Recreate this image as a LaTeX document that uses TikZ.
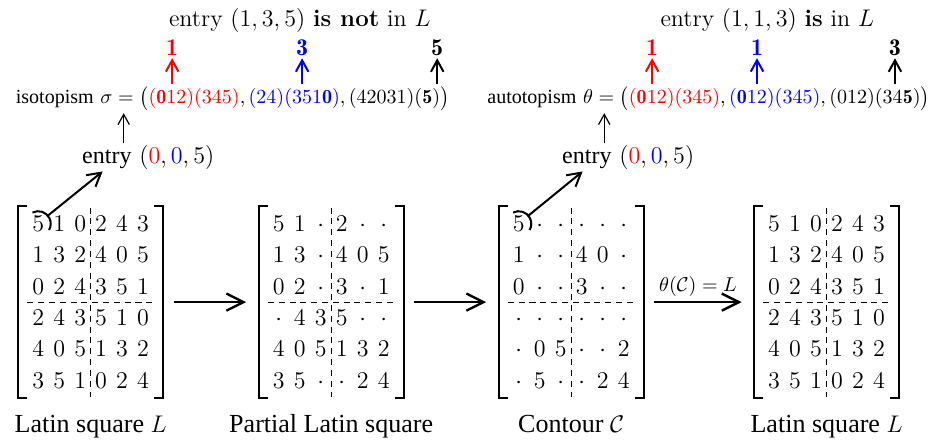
\documentclass[tikz,border=0pt]{standalone}
\usepackage{fontspec}
\newfontfamily\tms{Liberation Serif}
\usetikzlibrary{arrows.meta, matrix, calc}
\tikzset{
  mat/.style={matrix of math nodes, inner sep=0pt, column sep=0pt, row sep=0pt,
    nodes={font=\large, minimum width=0.368cm, text height=0.41cm, text depth=0.14cm, inner sep=0pt, anchor=center}},
  brk/.style={line width=1.1pt},
  sep/.style={line width=0.4pt, dash pattern=on 3pt off 2.4pt},
  arrow/.style={-{Straight Barb[length=3mm, width=3mm]}, line width=1.2pt},
  pick/.style={-{Straight Barb[length=2.3mm, width=2.6mm]}, line width=1pt},
  up/.style={-{Straight Barb[length=2mm, width=2.2mm]}, line width=1pt},
  thin arrow/.style={-{Straight Barb[length=1.8mm, width=2mm]}, line width=0.6pt},
  txt/.style={font=\large, anchor=base, inner sep=1pt},
  iso/.style={anchor=base, inner sep=1pt},
  hl/.style={font=\large, inner sep=1pt},
  lbl/.style={font=\tms\fontsize{13}{15}\selectfont, anchor=base},
}
\begin{document}
\begin{tikzpicture}
  \useasboundingbox (0,0) rectangle (16.49,7.77);
  % the four squares
  \matrix (m1) [mat] at (1.59,2.47) {
    5 & 1 & 0 & 2 & 4 & 3 \\
    1 & 3 & 2 & 4 & 0 & 5 \\
    0 & 2 & 4 & 3 & 5 & 1 \\
    2 & 4 & 3 & 5 & 1 & 0 \\
    4 & 0 & 5 & 1 & 3 & 2 \\
    3 & 5 & 1 & 0 & 2 & 4 \\
  };
  \matrix (m2) [mat] at (5.81,2.47) {
    5 & 1 & \cdot & 2 & \cdot & \cdot \\
    1 & 3 & \cdot & 4 & 0 & 5 \\
    0 & 2 & \cdot & 3 & \cdot & 1 \\
    \cdot & 4 & 3 & 5 & \cdot & \cdot \\
    4 & 0 & 5 & 1 & 3 & 2 \\
    3 & 5 & \cdot & \cdot & 2 & 4 \\
  };
  \matrix (m3) [mat] at (10.02,2.47) {
    5 & \cdot & \cdot & \cdot & \cdot & \cdot \\
    1 & \cdot & \cdot & 4 & 0 & \cdot \\
    0 & \cdot & \cdot & 3 & \cdot & \cdot \\
    \cdot & \cdot & \cdot & \cdot & \cdot & \cdot \\
    \cdot & 0 & 5 & \cdot & \cdot & 2 \\
    \cdot & 5 & \cdot & \cdot & 2 & 4 \\
  };
  \matrix (m4) [mat] at (14.50,2.47) {
    5 & 1 & 0 & 2 & 4 & 3 \\
    1 & 3 & 2 & 4 & 0 & 5 \\
    0 & 2 & 4 & 3 & 5 & 1 \\
    2 & 4 & 3 & 5 & 1 & 0 \\
    4 & 0 & 5 & 1 & 3 & 2 \\
    3 & 5 & 1 & 0 & 2 & 4 \\
  };
  \foreach \m in {m1,m2,m3,m4} {
    \draw[sep] (\m.west) -- (\m.east);
    \draw[sep] (\m.north) -- (\m.south);
    \draw[brk] ([yshift=0.03cm]\m.north west) -| ([xshift=-0.16cm, yshift=-0.03cm]\m.south west) -- ([yshift=-0.03cm]\m.south west);
    \draw[brk] ([yshift=0.03cm]\m.north east) -| ([xshift=0.16cm, yshift=-0.03cm]\m.south east) -- ([yshift=-0.03cm]\m.south east);
  }
  \node[lbl] (t1) at (1.59,0.18) {Latin square $L$};
  \node[lbl] (t2) at (5.81,0.18) {Partial Latin square};
  \node[lbl] (t3) at (10.02,0.18) {Contour $\mathcal{C}$};
  \node[lbl] (t4) at (14.50,0.18) {Latin square $L$};
  \draw[arrow] ([xshift=3.5mm]m1.east) -- ([xshift=-3.8mm]m2.west);
  \draw[arrow] ([xshift=3.5mm]m2.east) -- ([xshift=-3.8mm]m3.west);
  \draw[arrow] ([xshift=3.5mm]m3.east) -- node[above, inner sep=2pt] (th) {$\theta(\mathcal{C}) = L$} ([xshift=-3.8mm]m4.west);
  % isotopism: entry not in L
  \node[txt] (h1) at (5.26,7.30) {entry $(1,3,5)$ \textbf{is not} in $L$};
  \node[iso] (s1) at (4.08,5.95) {{\tms isotopism} $\sigma = \big({\color{red}(\mathbf{0}12)(345)}, {\color{blue}(24)(351\mathbf{0})}, (42031)(\mathbf{5})\big)$};
  \node[txt] (e1) at (2.60,4.91) {{\tms entry} $({\color{red}0},{\color{blue}0},5)$};
  \node[hl, text=red] (a1) at (3.02,6.93) {$\mathbf{1}$};
  \node[hl, text=blue] (a2) at (5.30,6.93) {$\mathbf{3}$};
  \node[hl] (a3) at (7.67,6.93) {$\mathbf{5}$};
  \draw[up, red] (s1.north -| a1) -- (a1);
  \draw[up, blue] (s1.north -| a2) -- (a2);
  \draw[up] (s1.north -| a3) -- (a3);
  \coordinate (q1) at (2.17,0);
  \draw[thin arrow] (e1.north -| q1) -- (s1.south -| q1);
  \draw[line width=1pt] ([shift={(117:0.22)}]m1-1-1.center) arc[start angle=117, end angle=-30, radius=0.22];
  \draw[pick] ([shift={(40:0.22)}]m1-1-1.center) -- ([xshift=4mm]e1.south west);
  % autotopism: entry in L
  \node[txt] (h2) at (13.46,7.30) {entry $(1,1,3)$ \textbf{is} in $L$};
  \node[iso] (s2) at (12.43,5.95) {{\tms autotopism} $\theta = \big({\color{red}(\mathbf{0}12)(345)}, {\color{blue}(\mathbf{0}12)(345)}, (012)(34\mathbf{5})\big)$};
  \node[txt] (e2) at (11.02,4.91) {{\tms entry} $({\color{red}0},{\color{blue}0},5)$};
  \node[hl, text=red] (b1) at (11.44,6.93) {$\mathbf{1}$};
  \node[hl, text=blue] (b2) at (13.28,6.93) {$\mathbf{1}$};
  \node[hl] (b3) at (15.70,6.93) {$\mathbf{3}$};
  \draw[up, red] (s2.north -| b1) -- (b1);
  \draw[up, blue] (s2.north -| b2) -- (b2);
  \draw[up] (s2.north -| b3) -- (b3);
  \coordinate (q2) at (10.60,0);
  \draw[thin arrow] (e2.north -| q2) -- (s2.south -| q2);
  \draw[line width=1pt] ([shift={(117:0.22)}]m3-1-1.center) arc[start angle=117, end angle=-30, radius=0.22];
  \draw[pick] ([shift={(40:0.22)}]m3-1-1.center) -- ([xshift=4mm]e2.south west);
\end{tikzpicture}
\end{document}
